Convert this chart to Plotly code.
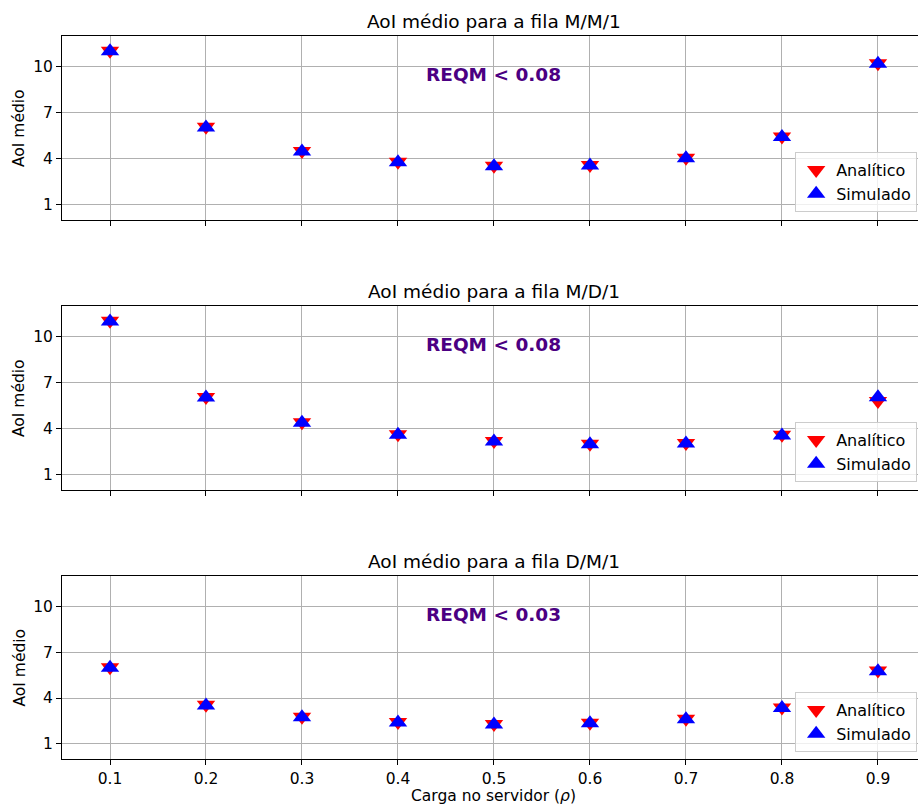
import plotly.graph_objects as go

# Carga no servidor (rho)
rho = [0.1, 0.2, 0.3, 0.4, 0.5, 0.6, 0.7, 0.8, 0.9]
rho_labels = ["0.1", "0.2", "0.3", "0.4", "0.5", "0.6", "0.7", "0.8", "0.9"]

# AoI médio - fila M/M/1
mm1_analitico = [11.04, 6.08, 4.50, 3.80, 3.54, 3.59, 4.06, 5.45, 10.23]
mm1_simulado = [11.00, 6.03, 4.46, 3.76, 3.50, 3.55, 4.02, 5.41, 10.19]

# AoI médio - fila M/D/1
md1_analitico = [11.03, 6.07, 4.42, 3.64, 3.20, 3.02, 3.07, 3.60, 5.80]
md1_simulado = [10.99, 6.03, 4.38, 3.60, 3.16, 2.98, 3.03, 3.55, 6.05]

# AoI médio - fila D/M/1
dm1_analitico = [6.02, 3.55, 2.77, 2.43, 2.30, 2.38, 2.64, 3.38, 5.80]
dm1_simulado = [5.98, 3.51, 2.73, 2.39, 2.26, 2.34, 2.60, 3.34, 5.76]

titulos = ["AoI médio para a fila M/M/1", "AoI médio para a fila M/D/1", "AoI médio para a fila D/M/1"]
reqm = ["REQM < 0.08", "REQM < 0.08", "REQM < 0.03"]
y_ticks = [1, 4, 7, 10]

series = [
    (mm1_analitico, mm1_simulado),
    (md1_analitico, md1_simulado),
    (dm1_analitico, dm1_simulado),
]

FONT = "DejaVu Sans"
W, H = 919, 805
ML, MR, MT, MB = 62, 1, 36, 46
PLOT_H = H - MT - MB


def frac(px):
    """Pixel row (from the top of the page) -> paper fraction (from the bottom)."""
    return (H - MB - px) / PLOT_H


# top/bottom pixel rows of each panel
paineis = [(36, 220), (306, 490), (576, 759)]
legenda_base = [212, 482, 752]

fig = go.Figure()
layout = dict(
    width=W,
    height=H,
    margin=dict(l=ML, r=MR, t=MT, b=MB, pad=0),
    paper_bgcolor="white",
    plot_bgcolor="white",
    font=dict(family=FONT, size=15.5, color="black"),
    showlegend=True,
)

annotations = []
for i, ((analitico, simulado), (top_px, bot_px)) in enumerate(zip(series, paineis)):
    n = i + 1
    xa = "x" if n == 1 else f"x{n}"
    ya = "y" if n == 1 else f"y{n}"
    leg = "legend" if n == 1 else f"legend{n}"

    fig.add_trace(go.Scatter(
        x=rho, y=analitico, mode="markers", name="Analítico",
        marker=dict(symbol="triangle-down", size=16, color="#ff0000", line=dict(width=0)),
        xaxis=xa, yaxis=ya, legend=leg,
    ))
    fig.add_trace(go.Scatter(
        x=rho, y=simulado, mode="markers", name="Simulado",
        marker=dict(symbol="triangle-up", size=16, color="#0000ff", line=dict(width=0)),
        xaxis=xa, yaxis=ya, legend=leg,
    ))

    eixo_x = dict(
        domain=[0, 1], range=[0.05, 0.9417], anchor=ya,
        tickmode="array", tickvals=rho, ticktext=rho_labels,
        showticklabels=(n == 3),
        showgrid=True, gridcolor="#b0b0b0", gridwidth=1,
        showline=True, linecolor="black", linewidth=1, mirror=True,
        ticks="outside", ticklen=5, tickwidth=1, tickcolor="black",
        zeroline=False, tickfont=dict(size=15.5, family=FONT, color="black"),
    )
    if n > 1:
        eixo_x["matches"] = "x"
    eixo_y = dict(
        domain=[frac(bot_px), frac(top_px)], range=[0, 12], anchor=xa,
        tickmode="array", tickvals=y_ticks, ticktext=[str(v) for v in y_ticks],
        showgrid=True, gridcolor="#b0b0b0", gridwidth=1,
        showline=True, linecolor="black", linewidth=1, mirror=False,
        ticks="outside", ticklen=5, tickwidth=1, tickcolor="black",
        zeroline=False, tickfont=dict(size=15.5, family=FONT, color="black"),
    )
    layout["xaxis" if n == 1 else f"xaxis{n}"] = eixo_x
    layout["yaxis" if n == 1 else f"yaxis{n}"] = eixo_y

    layout[leg] = dict(
        x=0.999, xanchor="right", xref="paper",
        y=frac(legenda_base[i]), yanchor="bottom", yref="paper",
        bgcolor="rgba(255,255,255,0.8)", bordercolor="#cccccc", borderwidth=1,
        font=dict(size=16, family=FONT, color="black"),
        tracegroupgap=0,
    )

    # subplot title, centred over the axes
    annotations.append(dict(
        text=titulos[i], x=0.5, xref=xa, y=frac(top_px), yref="paper",
        xanchor="center", yanchor="bottom", yshift=2, showarrow=False,
        font=dict(size=18.5, family=FONT, color="black"),
    ))
    # error annotation
    annotations.append(dict(
        text=f"<b>{reqm[i]}</b>", x=0.5, xref=xa, y=9.5, yref=ya,
        xanchor="center", yanchor="middle", showarrow=False,
        font=dict(size=18.5, family=FONT, color="#4b0082"),
    ))
    # y axis label
    annotations.append(dict(
        text="AoI médio", x=0, xref="paper", xshift=-43,
        y=(frac(top_px) + frac(bot_px)) / 2, yref="paper",
        xanchor="center", yanchor="middle", textangle=-90, showarrow=False,
        font=dict(size=15.5, family=FONT, color="black"),
    ))

# x axis label
annotations.append(dict(
    text="Carga no servidor (<i>ρ</i>)", x=0.5, xref="x3", y=0, yref="paper",
    xanchor="center", yanchor="middle", yshift=-37, showarrow=False,
    font=dict(size=15.5, family=FONT, color="black"),
))

layout["annotations"] = annotations
fig.update_layout(**layout)
fig.write_html("out.html")
